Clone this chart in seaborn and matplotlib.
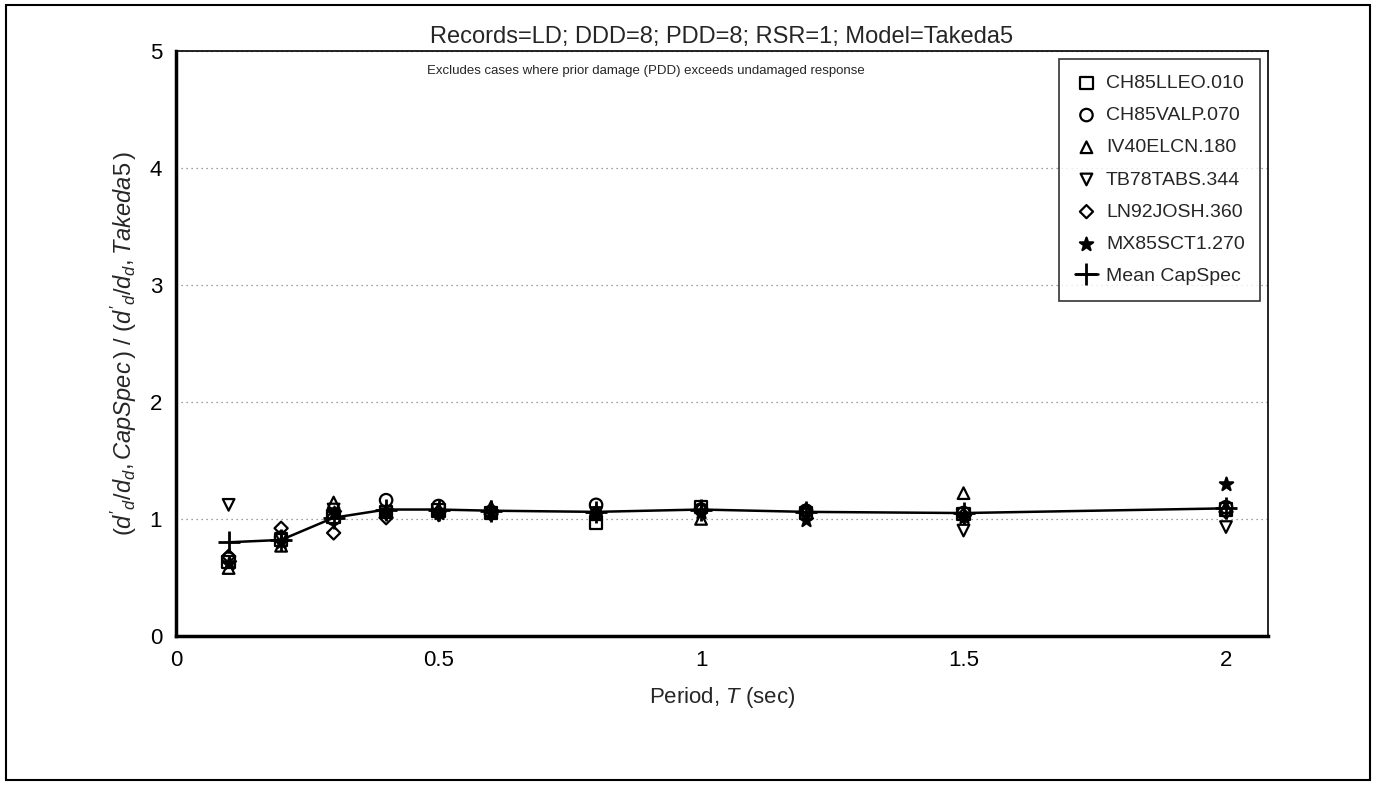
import numpy as np
import pandas as pd
import matplotlib
matplotlib.use("Agg")
import matplotlib.pyplot as plt
from matplotlib.patches import Rectangle
import seaborn as sns

# 数据：周期与各记录的比值
periods = [0.1, 0.2, 0.3, 0.4, 0.5, 0.6, 0.8, 1.0, 1.2, 1.5, 2.0]
records = ["CH85LLEO.010", "CH85VALP.070", "IV40ELCN.180",
           "TB78TABS.344", "LN92JOSH.360", "MX85SCT1.270"]
ch85lleo = [0.63, 0.82, 1.02, 1.06, 1.07, 1.05, 0.97, 1.10, 1.05, 1.04, 1.08]
ch85valp = [0.66, 0.84, 1.00, 1.16, 1.11, 1.06, 1.12, 1.08, 1.07, 1.05, 1.10]
iv40elcn = [0.58, 0.77, 1.14, 1.07, 1.08, 1.10, 1.04, 1.00, 1.08, 1.22, 1.10]
tb78tabs = [1.12, 0.83, 1.08, 1.04, 1.03, 1.05, 1.05, 1.07, 1.04, 0.90, 0.93]
ln92josh = [0.68, 0.92, 0.88, 1.01, 1.06, 1.04, 1.05, 1.08, 1.05, 1.03, 1.06]
mx85sct1 = [0.62, 0.80, 1.05, 1.07, 1.05, 1.06, 1.04, 1.06, 0.99, 1.02, 1.30]
mean_capspec = [0.80, 0.82, 1.01, 1.08, 1.08, 1.07, 1.06, 1.08, 1.06, 1.05, 1.09]

markers = ["s", "o", "^", "v", "D", "*"]
sizes = [80, 80, 70, 70, 45, 100]

df = pd.DataFrame({
    "T": periods * len(records),
    "ratio": ch85lleo + ch85valp + iv40elcn + tb78tabs + ln92josh + mx85sct1,
    "record": np.repeat(records, len(periods)),
})

sns.set_style("white")
plt.rcParams["font.family"] = ["Liberation Sans", "DejaVu Sans"]
plt.rcParams["mathtext.fontset"] = "custom"
plt.rcParams["mathtext.rm"] = "Liberation Sans"
plt.rcParams["mathtext.it"] = "Liberation Sans:italic"

fig = plt.figure(figsize=(13.76, 7.85), dpi=100)
ax = fig.add_axes([0.128, 0.19, 0.7935, 0.745])

for rec, mk, sz in zip(records, markers, sizes):
    sub = df[df["record"] == rec]
    filled = mk == "*"
    sns.scatterplot(data=sub, x="T", y="ratio", ax=ax, marker=mk, s=sz,
                    facecolors="black" if filled else "none",
                    edgecolors="black", linewidths=1.6, label=rec, zorder=3)

sns.lineplot(x=periods, y=mean_capspec, ax=ax, color="black", lw=1.8,
             marker="+", markersize=16, markeredgewidth=2,
             markeredgecolor="black", label="Mean CapSpec", zorder=4)

ax.set_xlim(0, 2.08)
ax.set_ylim(0, 5)
ax.set_xticks([0, 0.5, 1, 1.5, 2])
ax.set_xticklabels(["0", "0.5", "1", "1.5", "2"])
ax.set_yticks([0, 1, 2, 3, 4, 5])
ax.tick_params(axis="both", direction="in", length=9, width=1.5,
               labelsize=16, pad=10, colors="black")
ax.yaxis.grid(True, linestyle=(0, (1, 3)), color="gray", lw=0.9)

for side in ["left", "bottom"]:
    ax.spines[side].set_linewidth(2.5)
for side in ["top", "right"]:
    ax.spines[side].set_linewidth(1.2)
for sp in ax.spines.values():
    sp.set_color("black")

ax.set_xlabel("Period, $T$ (sec)", fontsize=16, labelpad=10)
ax.set_ylabel(r"$(d'_d/d_d,CapSpec\,)\ /\ (d'_d/d_d,Takeda5\,)$",
              fontsize=17, labelpad=8)
ax.set_title("Records=LD; DDD=8; PDD=8; RSR=1; Model=Takeda5",
             fontsize=17, pad=6)
ax.text(0.43, 0.965, "Excludes cases where prior damage (PDD) exceeds undamaged response",
        transform=ax.transAxes, ha="center", va="center", fontsize=9.5)

leg = ax.legend(loc="upper right", frameon=True, fontsize=14,
                borderaxespad=0.4, handletextpad=0.4, labelspacing=0.75,
                fancybox=False, borderpad=0.8, handlelength=1.2)
leg.get_frame().set_edgecolor("black")
leg.get_frame().set_linewidth(1.2)

fig.patches.append(Rectangle((0.004, 0.006), 0.992, 0.988, transform=fig.transFigure,
                             fill=False, edgecolor="black", lw=1.5))

fig.savefig("out.png", dpi=100)
